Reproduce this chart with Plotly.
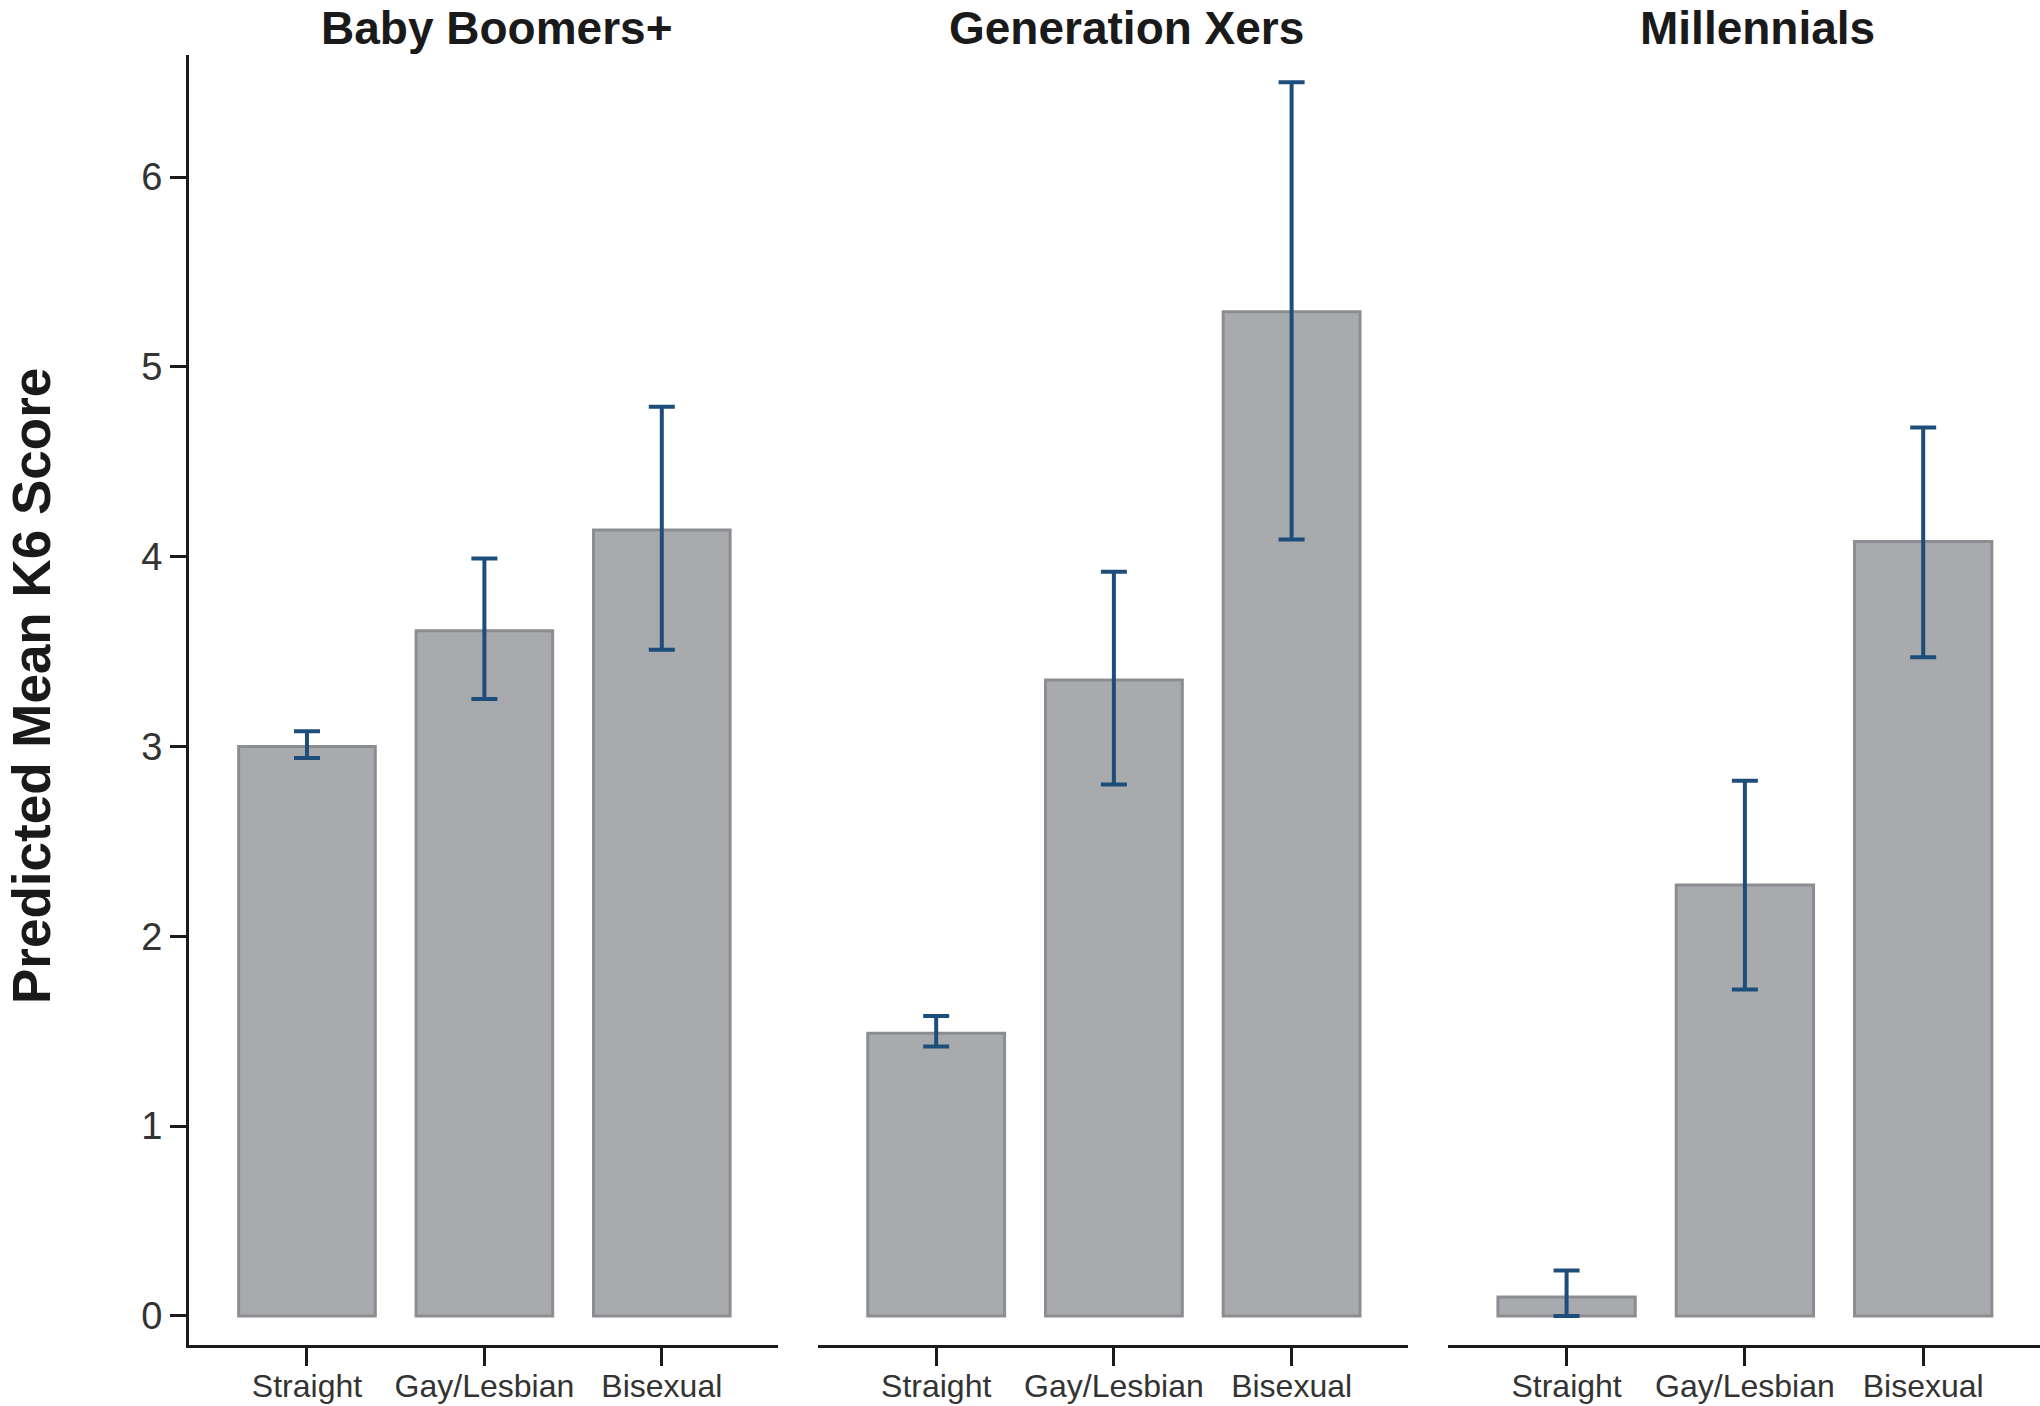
import plotly.graph_objects as go

categories = ["Straight", "Gay/Lesbian", "Bisexual"]
panels = ["Baby Boomers+", "Generation Xers", "Millennials"]

boomers_mean = [3.00, 3.61, 4.14]
boomers_low = [2.94, 3.25, 3.51]
boomers_high = [3.08, 3.99, 4.79]

genx_mean = [1.49, 3.35, 5.29]
genx_low = [1.42, 2.80, 4.09]
genx_high = [1.58, 3.92, 6.50]

mill_mean = [0.10, 2.27, 4.08]
mill_low = [0.00, 1.72, 3.47]
mill_high = [0.24, 2.82, 4.68]

y_ticks = [0, 1, 2, 3, 4, 5, 6]
y_title = "Predicted Mean K6 Score"

series = [
    (boomers_mean, boomers_low, boomers_high),
    (genx_mean, genx_low, genx_high),
    (mill_mean, mill_low, mill_high),
]

W, H = 2040, 1406
ML, MR, MT, MB = 189, 0, 55, 61
PW = W - ML - MR
PH = H - MT - MB

def px_dom(a, b):
    return [(a - ML) / PW, (b - ML) / PW]

domains = [px_dom(189, 778), px_dom(818, 1408), px_dom(1448, 2040)]

FONT = "Liberation Sans, Arial, Helvetica, sans-serif"
BAR_FILL = "#A9AAAE"
BAR_LINE = "#8C8D91"
ERR_COLOR = "#1D4E7A"

fig = go.Figure()
for i, (m, lo, hi) in enumerate(series):
    ax = "" if i == 0 else str(i + 1)
    fig.add_trace(go.Bar(
        x=list(range(len(categories))),
        y=m,
        width=0.77,
        marker=dict(color=BAR_FILL, line=dict(color=BAR_LINE, width=3)),
        error_y=dict(
            type="data", symmetric=False,
            array=[h - v for h, v in zip(hi, m)],
            arrayminus=[v - l for v, l in zip(m, lo)],
            color=ERR_COLOR, thickness=4, width=13,
        ),
        xaxis="x" + ax, yaxis="y" + ax,
        showlegend=False,
        hoverinfo="skip",
    ))

layout = dict(
    width=W, height=H,
    margin=dict(l=ML, r=MR, t=MT, b=MB),
    paper_bgcolor="white", plot_bgcolor="white",
    font=dict(family=FONT, color="#222222"),
    bargap=0.2,
)

x_range = [-0.665, 2.655]
y_range = [-0.153, 6.643]

for i in range(3):
    ax = "" if i == 0 else str(i + 1)
    layout["xaxis" + ax] = dict(
        domain=domains[i],
        range=x_range,
        tickmode="array",
        tickvals=list(range(len(categories))),
        ticktext=categories,
        showline=True, linecolor="#1a1a1a", linewidth=3,
        ticks="outside", ticklen=18, tickwidth=2.5, tickcolor="#1a1a1a",
        tickfont=dict(family=FONT, size=32, color="#333333"),
        ticklabelstandoff=-7,
        showgrid=False, zeroline=False,
        anchor="y" + ax,
        automargin=False,
        fixedrange=True,
    )
    yaxis = dict(
        domain=[0, 1],
        range=y_range,
        showgrid=False, zeroline=False,
        anchor="x" + ax,
        automargin=False,
        fixedrange=True,
    )
    if i == 0:
        yaxis.update(
            tickmode="array", tickvals=y_ticks,
            ticktext=[str(t) for t in y_ticks],
            showline=True, linecolor="#1a1a1a", linewidth=3,
            ticks="outside", ticklen=16, tickwidth=2.5, tickcolor="#1a1a1a",
            tickfont=dict(family=FONT, size=38, color="#333333"),
        )
    else:
        yaxis.update(matches="y", showline=False, showticklabels=False, ticks="")
    layout["yaxis" + ax] = yaxis

annotations = []
for i, name in enumerate(panels):
    ax = "" if i == 0 else str(i + 1)
    annotations.append(dict(
        text="<b>" + name + "</b>",
        xref="x" + ax, x=1, xshift=13,
        yref="paper", y=(H - MB - 28) / PH,
        xanchor="center", yanchor="middle",
        showarrow=False,
        font=dict(family=FONT, size=46, color="#1a1a1a"),
    ))

annotations.append(dict(
    text="<b>" + y_title + "</b>",
    xref="paper", x=(31 - ML) / PW,
    yref="paper", y=(H - MB - 686) / PH,
    xanchor="center", yanchor="middle",
    textangle=-90,
    showarrow=False,
    font=dict(family=FONT, size=53, color="#1a1a1a"),
))
layout["annotations"] = annotations

fig.update_layout(**layout)
fig.write_html(
    "out.html",
    config={"displayModeBar": False},
    post_script="document.body.style.margin='0';document.body.style.overflow='hidden';",
)
